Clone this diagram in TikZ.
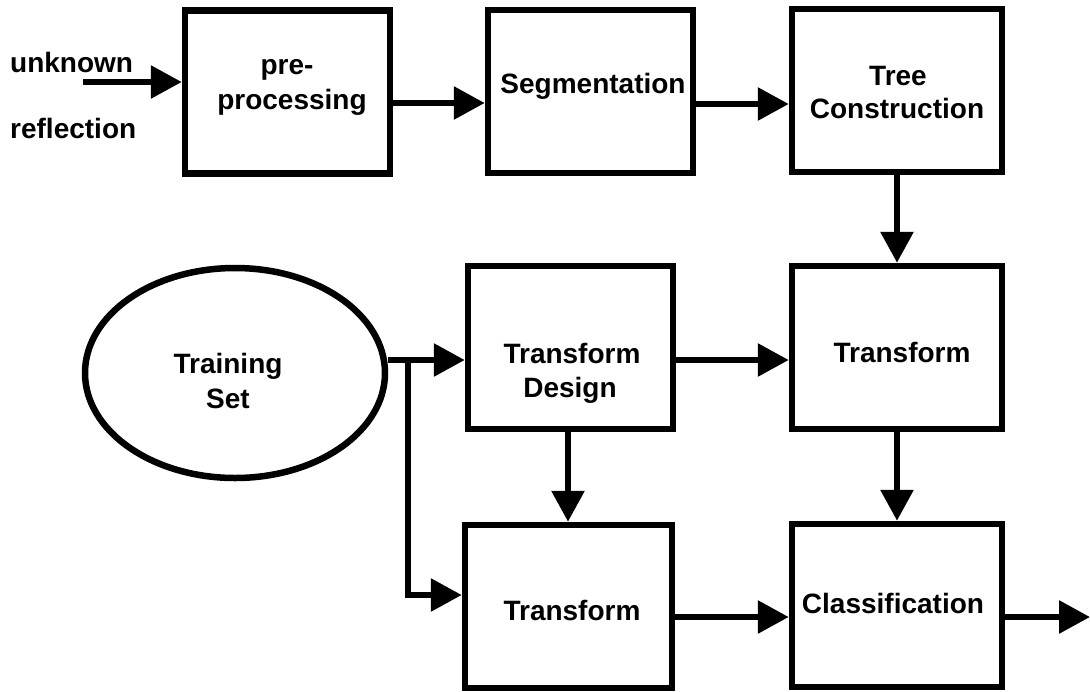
\documentclass[tikz,border=0pt]{standalone}
\usepackage{fontspec}
\setmainfont{Liberation Sans}
\usetikzlibrary{arrows.meta,shapes.geometric}
\begin{document}
\begin{tikzpicture}[x=1pt,y=-1pt,
  box/.style={draw, line width=6.5pt, inner sep=0pt, minimum height=163pt},
  lbl/.style={font=\fontsize{28}{34}\selectfont\bfseries, anchor=base, inner sep=0pt},
  side/.style={lbl, anchor=base west},
  wire/.style={line width=6pt},
  conn/.style={wire, -{Triangle[length=31pt,width=32pt]}}
]
\useasboundingbox (0,0) rectangle (1090,691);

% processing blocks
\node[box, minimum width=205pt] (pre)  at (287.5,92)  {};
\node[box, minimum width=205pt] (seg)  at (590.5,91.5) {};
\node[box, minimum width=210pt] (tree) at (897,90.5)  {};
\node[box, minimum width=205pt] (td)   at (570.5,347.5) {};
\node[box, minimum width=210pt] (tr)   at (897,347.5) {};
\node[box, minimum width=207pt] (tb)   at (568.5,606.5) {};
\node[box, minimum width=210pt] (cls)  at (897,605.5) {};
\node[draw, ellipse, line width=6.5pt, minimum width=300pt, minimum height=210pt, inner sep=0pt] (ts) at (235,373) {};

% block texts
\node[lbl] (preA)  at (287,74)  {pre-};
\node[lbl] (preB)  at (292,109) {processing};
\node[lbl] (segT)  at (593,93)  {Segmentation};
\node[lbl] (treeA) at (898,85)  {Tree};
\node[lbl] (treeB) at (897,118) {Construction};
\node[lbl] (tsA)   at (228,373) {Training};
\node[lbl] (tsB)   at (228,408) {Set};
\node[lbl] (tdA)   at (572,363) {Transform};
\node[lbl] (tdB)   at (570,397) {Design};
\node[lbl] (trT)   at (902,362) {Transform};
\node[lbl] (tbT)   at (572,620) {Transform};
\node[lbl] (clsT)  at (893,613) {Classification};
\node[side] (inA)  at (10,72)  {unknown};
\node[side] (inB)  at (10,138) {reflection};

% connector levels
\coordinate (inStart) at (83,82);
\coordinate (r1) at (0,103);
\coordinate (r2) at (0,104);
\coordinate (split) at (408,360);
\coordinate (r4) at (0,360);
\coordinate (r5) at (0,595);
\coordinate (r6) at (0,617);
\coordinate (c1) at (568,0);
\coordinate (outEnd) at (1090,617);

% connectors
\draw[conn] (inStart) -- (pre.west |- inStart);
\draw[conn] (pre.east |- r1) -- (seg.west |- r1);
\draw[conn] (seg.east |- r2) -- (tree.west |- r2);
\draw[conn] (tree) -- (tr);
\draw[wire] (ts.east |- split) -- (split);
\draw[conn] (split) -- (td.west |- split);
\draw[conn] (split) |- (tb.west |- r5);
\draw[conn] (td.east |- r4) -- (tr.west |- r4);
\draw[conn] (td.south -| c1) -- (tb.north -| c1);
\draw[conn] (tr) -- (cls);
\draw[conn] (tb.east |- r6) -- (cls.west |- r6);
\draw[conn] (cls.east |- outEnd) -- (outEnd);
\end{tikzpicture}
\end{document}
